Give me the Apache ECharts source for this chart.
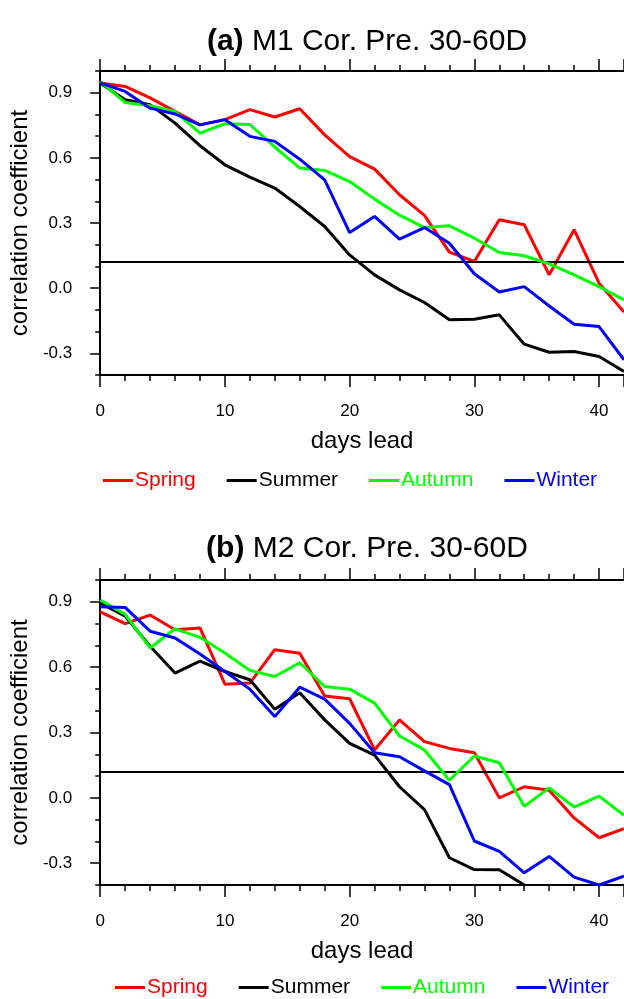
<!DOCTYPE html>
<html>
<head>
<meta charset="utf-8">
<script src="https://cdn.jsdelivr.net/npm/echarts@6/dist/echarts.min.js"></script>
<style>html,body{margin:0;padding:0;background:#fff;}#c{width:624px;height:999px;}</style>
</head>
<body>
<div id="c"></div>
<script>
// ---- data ----
const days = [0,2,4,6,8,10,12,14,16,18,20,22,24,26,28,30,32,34,36,38,40,42];
const seasons = ['Spring','Summer','Autumn','Winter'];
const seasonColors = ['#ff0000','#000000','#00ff00','#0000ff'];
const yTickLabels = ['-0.3','0.0','0.3','0.6','0.9'];
const xTickLabels = ['0','10','20','30','40'];
const significance = 0.12;

// panel (a) M1
const a_spring = [0.945,0.929,0.876,0.814,0.752,0.776,0.822,0.788,0.826,0.706,0.606,0.548,0.430,0.335,0.166,0.123,0.315,0.292,0.061,0.269,0.023,-0.110];
const a_summer = [0.945,0.868,0.845,0.760,0.656,0.568,0.511,0.461,0.376,0.284,0.153,0.061,-0.008,-0.066,-0.146,-0.143,-0.123,-0.258,-0.295,-0.292,-0.315,-0.384];
const a_autumn = [0.952,0.855,0.840,0.814,0.714,0.757,0.754,0.650,0.553,0.542,0.491,0.410,0.336,0.279,0.287,0.230,0.164,0.149,0.112,0.061,0.007,-0.054];
const a_winter = [0.945,0.906,0.829,0.802,0.752,0.776,0.699,0.676,0.594,0.499,0.256,0.330,0.226,0.279,0.207,0.066,-0.018,0.007,-0.082,-0.166,-0.177,-0.330];

// panel (b) M2
const b_spring = [0.854,0.800,0.839,0.772,0.780,0.522,0.527,0.680,0.664,0.468,0.455,0.220,0.358,0.258,0.227,0.207,0.000,0.051,0.035,-0.092,-0.183,-0.141];
const b_summer = [0.895,0.834,0.696,0.573,0.628,0.580,0.542,0.407,0.482,0.358,0.250,0.196,0.051,-0.054,-0.275,-0.329,-0.330,-0.400,null,null,null,null];
const b_autumn = [0.908,0.842,0.688,0.776,0.737,0.665,0.585,0.557,0.620,0.511,0.499,0.435,0.284,0.220,0.081,0.192,0.161,-0.039,0.046,-0.042,0.008,-0.080];
const b_winter = [0.877,0.874,0.765,0.734,0.660,0.580,0.499,0.373,0.508,0.453,0.342,0.207,0.189,0.124,0.061,-0.198,-0.246,-0.344,-0.269,-0.364,-0.400,-0.360];

const panelA = [a_spring,a_summer,a_autumn,a_winter];
const panelB = [b_spring,b_summer,b_autumn,b_winter];

// ---- chart ----
const FONT = 'Liberation Sans, Arial, Helvetica, sans-serif';
const chart = echarts.init(document.getElementById('c'), null, {renderer:'canvas'});

function xAxes(gi){
  const base = {
    type:'value', gridIndex:gi, min:0, max:42, interval:10,
    axisLine:{show:true, onZero:false, lineStyle:{color:'#000', width:2}},
    axisTick:{show:true, length:12, lineStyle:{color:'#000', width:1.5}},
    minorTick:{show:true, splitNumber:5, length:6, lineStyle:{color:'#000', width:1.5}},
    splitLine:{show:false}
  };
  return [
    Object.assign({}, base, {
      position:'bottom',
      axisLabel:{show:true, margin:28, fontSize:17, color:'#000', fontFamily:FONT, showMaxLabel:false,
        formatter:v => xTickLabels.includes(String(v)) ? String(v) : ''},
      name:'days lead', nameLocation:'middle', nameGap:54,
      nameTextStyle:{fontSize:24, color:'#000', fontFamily:FONT}
    }),
    Object.assign({}, base, {position:'top', axisLabel:{show:false}})
  ];
}
function yAxes(gi){
  return [
    {
      type:'value', gridIndex:gi, position:'left', min:-0.4, max:1.0, interval:0.1,
      axisLine:{show:true, onZero:false, lineStyle:{color:'#000', width:2}},
      axisTick:{show:true, length:5, lineStyle:{color:'#000', width:1.5}},
      splitLine:{show:false},
      axisLabel:{margin:28, fontSize:17, color:'#000', fontFamily:FONT,
        formatter:v => { const s = (Math.abs(v) < 1e-9 ? 0 : v).toFixed(1); return yTickLabels.includes(s) ? s : ''; }},
      name:'correlation coefficient', nameLocation:'middle', nameGap:62,
      nameTextStyle:{fontSize:24, color:'#000', fontFamily:FONT}
    },
    {
      type:'value', gridIndex:gi, position:'left', min:-0.4, max:1.0, interval:0.1,
      axisLine:{show:false},
      axisTick:{show:true, length:10, lineStyle:{color:'#000', width:1.5},
        customValues: yTickLabels.map(Number)},
      axisLabel:{show:false},
      splitLine:{show:false}
    }
  ];
}

function seriesFor(panel, gi){
  return panel.map((vals, i) => ({
    name: seasons[i], type:'line', xAxisIndex: gi*2, yAxisIndex: gi*2,
    data: days.map((d, k) => [d, vals[k]]),
    showSymbol:false, symbol:'none', clip:true, connectNulls:false,
    lineStyle:{color:seasonColors[i], width:3}, itemStyle:{color:seasonColors[i]},
    z: 3 + i,
    markLine: i === 1 ? {
      silent:true, symbol:['none','none'], label:{show:false},
      lineStyle:{color:'#000', width:2, type:'solid'},
      data:[{yAxis: significance}]
    } : undefined
  }));
}

function legendFor(left, top){
  return {
    left:left, top:top, width:600, orient:'horizontal', icon:'rect', itemWidth:30, itemHeight:3,
    itemGap:31, selectedMode:false,
    textStyle:{fontSize:21, fontFamily:FONT, padding:[0,0,0,-3]},
    data: seasons.map((n,i) => ({name:n, textStyle:{color:seasonColors[i]}, itemStyle:{color:seasonColors[i]}}))
  };
}

const option = {
  animation:false,
  backgroundColor:'#fff',
  title:[
    {text:'{b|(a)} M1 Cor. Pre. 30-60D', left:362, top:22, textAlign:'center',
     textStyle:{fontSize:30, fontWeight:'normal', color:'#000', fontFamily:FONT,
       rich:{b:{fontSize:30, fontWeight:'bold', color:'#000', fontFamily:FONT}}}},
    {text:'{b|(b)} M2 Cor. Pre. 30-60D', left:362, top:529, textAlign:'center',
     textStyle:{fontSize:30, fontWeight:'normal', color:'#000', fontFamily:FONT,
       rich:{b:{fontSize:30, fontWeight:'bold', color:'#000', fontFamily:FONT}}}}
  ],
  grid:[
    {left:100, top:71, width:526, height:304, containLabel:false},
    {left:100, top:580, width:526, height:305, containLabel:false}
  ],
  xAxis: xAxes(0).concat(xAxes(1)),
  yAxis: yAxes(0).concat(yAxes(1)),
  legend:[legendFor(98, 465), legendFor(110, 972)],
  series: seriesFor(panelA, 0).concat(seriesFor(panelB, 1))
};
chart.setOption(option);
</script>
</body>
</html>
